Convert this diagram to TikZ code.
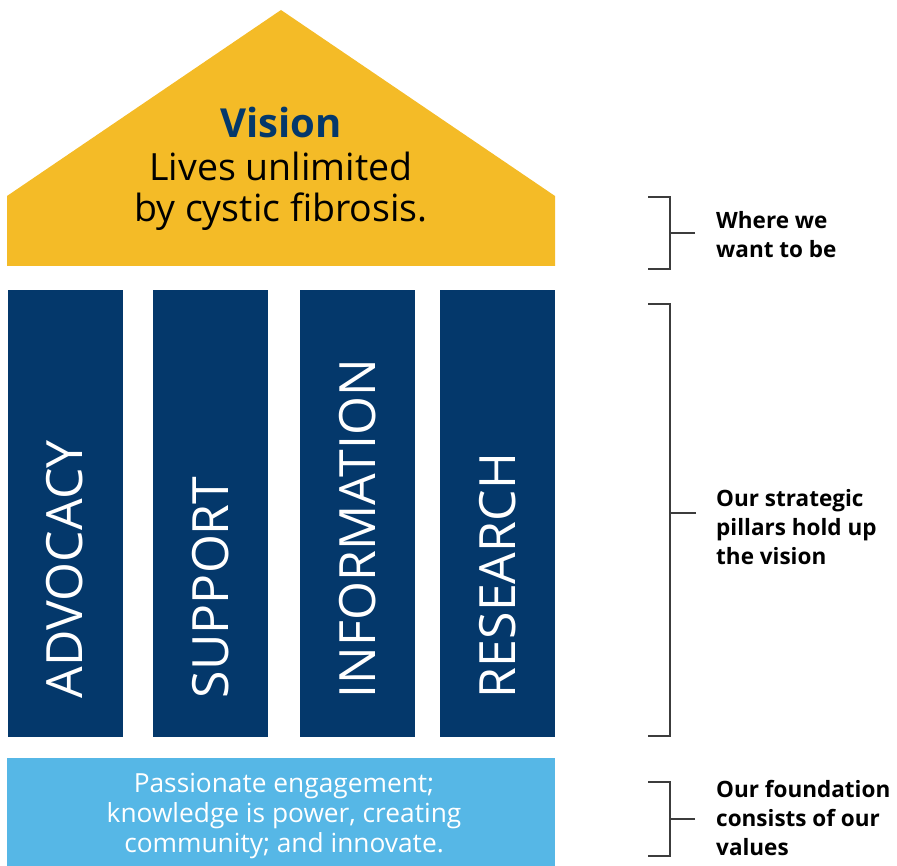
\documentclass[tikz,border=0pt]{standalone}
\usepackage{fontspec}
\setmainfont{Open Sans}
\usetikzlibrary{positioning}
\definecolor{roofyellow}{HTML}{F4BB27}
\definecolor{pillarblue}{HTML}{04386B}
\definecolor{baseblue}{HTML}{56B7E6}
\definecolor{bracegray}{HTML}{3C3C3C}
\tikzset{pillar/.style={rectangle,fill=pillarblue,minimum width=115pt,minimum height=447pt,inner sep=0pt},
pillartext/.style={rotate=90,anchor=west,inner sep=0pt,text=white,font=\fontsize{50}{50}\selectfont},
visiontext/.style={anchor=base,inner sep=0pt,font=\fontsize{37.5}{40}\selectfont},
note/.style={anchor=west,align=left,inner sep=0pt,font=\fontsize{22.5}{29}\selectfont\bfseries},
brace/.style={draw=bracegray,line width=1.5pt}}

\begin{document}
\begin{tikzpicture}[x=1pt,y=-1pt]
  \useasboundingbox (0,0) rectangle (897,866);

  % roof
  \fill [roofyellow] (7,266) -- (7,196) -- (281,10) -- (555,196) -- (555,266) -- cycle;
  \node (vtitle) [visiontext,text=pillarblue,font=\fontsize{40}{40}\selectfont\bfseries] at (281,138) {Vision};
  \node (vline1) [visiontext] at (281,181) {Lives unlimited};
  \node (vline2) [visiontext] at (281,222) {by cystic fibrosis.};

  % pillars
  \node (adv) [pillar] at (65,513.5) {};
  \node (sup) [pillar, right=30pt of adv] {};
  \node (inf) [pillar, right=32pt of sup] {};
  \node (res) [pillar, right=24pt of inf] {};
  \node (advtxt) [pillartext] at ([yshift=39pt]adv.south) {ADVOCACY};
  \node (suptxt) [pillartext] at ([yshift=39pt]sup.south) {SUPPORT};
  \node (inftxt) [pillartext] at ([yshift=39pt]inf.south) {INFORMATION};
  \node (restxt) [pillartext] at ([yshift=39pt]res.south) {RESEARCH};

  % foundation
  \node (found) [rectangle,fill=baseblue,minimum width=548pt,minimum height=108pt,inner sep=0pt] at (281,812) {};
  \node (valtxt) [align=center,text=white,font=\fontsize{26.3}{30}\selectfont] at (284,816)
    {Passionate engagement;\\knowledge is power, creating\\community; and innovate.};

  % notes
  \node (where) [note] at (716,235) {Where we\\want to be};
  \node (hold) [note] at (716,527) {Our strategic\\pillars hold up\\the vision};
  \node (values) [note] at (716,818) {Our foundation\\consists of our\\values};

  \coordinate (wheretop) at (648,197);
  \coordinate (wherebot) at (648,269);
  \coordinate (wheretick) at (695,233);
  \draw [brace] (wheretop) -- ++(22,0) |- (wherebot);
  \draw [brace] (wheretick) -- ++(-25,0);

  \coordinate (holdtop) at (648,304);
  \coordinate (holdbot) at (648,736);
  \coordinate (holdtick) at (696,513);
  \draw [brace] (holdtop) -- ++(22,0) |- (holdbot);
  \draw [brace] (holdtick) -- ++(-26,0);

  \coordinate (valuestop) at (648,782);
  \coordinate (valuesbot) at (648,856);
  \coordinate (valuestick) at (695,819);
  \draw [brace] (valuestop) -- ++(22,0) |- (valuesbot);
  \draw [brace] (valuestick) -- ++(-25,0);
\end{tikzpicture}
\end{document}
